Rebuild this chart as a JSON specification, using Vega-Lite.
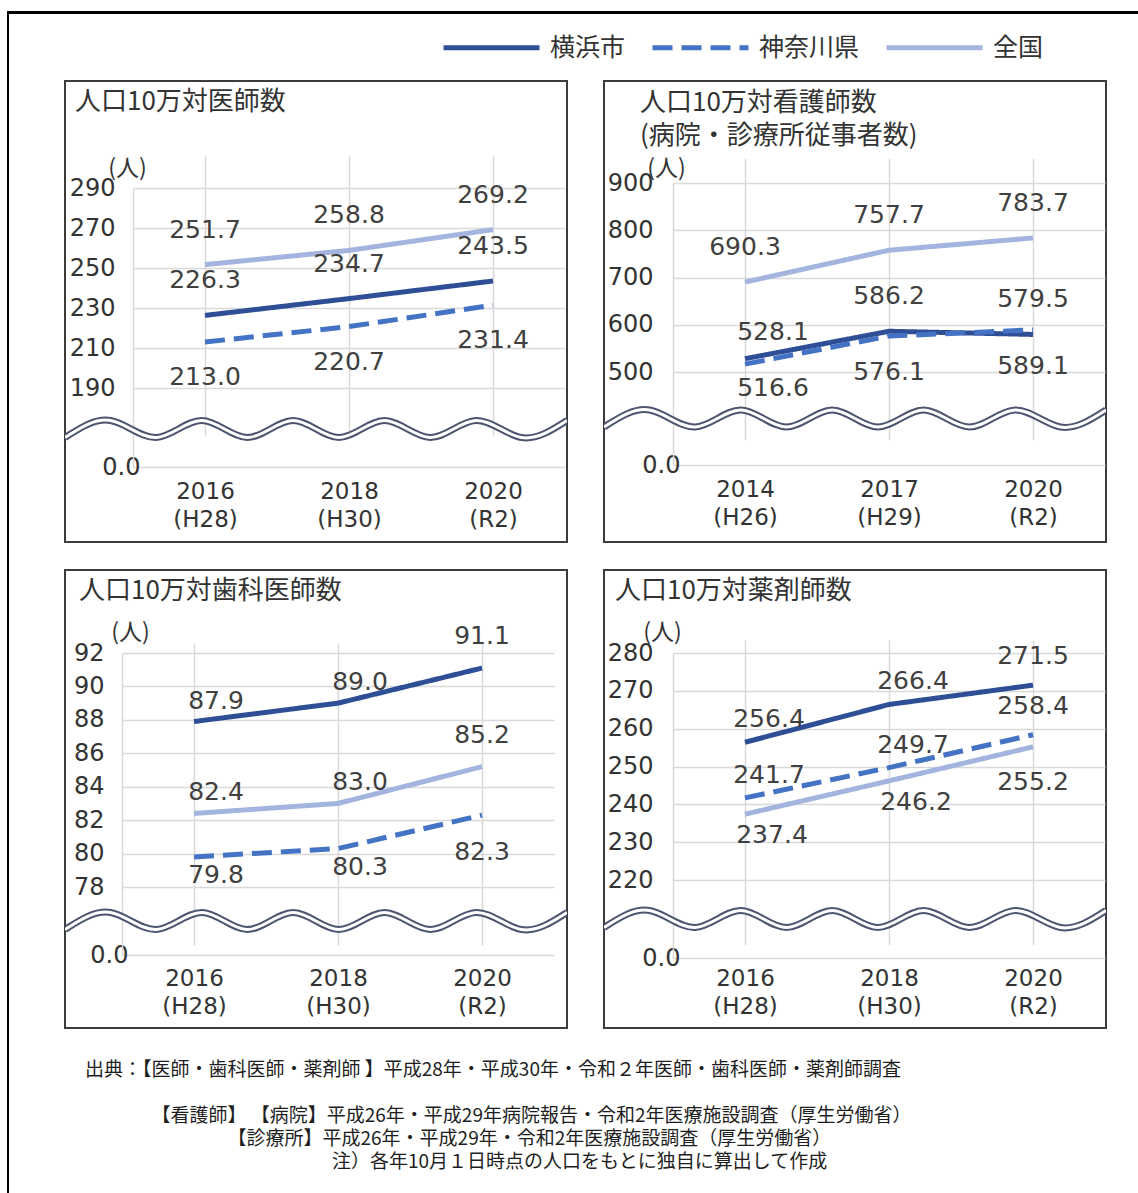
{
  "$schema": "https://vega.github.io/schema/vega-lite/v6.json",
  "background": "white",
  "padding": {"left": 7, "top": 11, "right": 0, "bottom": 0},
  "autosize": {"type": "pad"},
  "bounds": "flush",
  "spacing": 0,
  "datasets": {
    "p1": [
      {"year": "2016\n(H28)", "series": "横浜市", "value": 226.3},
      {"year": "2018\n(H30)", "series": "横浜市", "value": 234.7},
      {"year": "2020\n(R2)", "series": "横浜市", "value": 243.5},
      {"year": "2016\n(H28)", "series": "神奈川県", "value": 213.0},
      {"year": "2018\n(H30)", "series": "神奈川県", "value": 220.7},
      {"year": "2020\n(R2)", "series": "神奈川県", "value": 231.4},
      {"year": "2016\n(H28)", "series": "全国", "value": 251.7},
      {"year": "2018\n(H30)", "series": "全国", "value": 258.8},
      {"year": "2020\n(R2)", "series": "全国", "value": 269.2}
    ],
    "p2": [
      {"year": "2014\n(H26)", "series": "横浜市", "value": 528.1},
      {"year": "2017\n(H29)", "series": "横浜市", "value": 586.2},
      {"year": "2020\n(R2)", "series": "横浜市", "value": 579.5},
      {"year": "2014\n(H26)", "series": "神奈川県", "value": 516.6},
      {"year": "2017\n(H29)", "series": "神奈川県", "value": 576.1},
      {"year": "2020\n(R2)", "series": "神奈川県", "value": 589.1},
      {"year": "2014\n(H26)", "series": "全国", "value": 690.3},
      {"year": "2017\n(H29)", "series": "全国", "value": 757.7},
      {"year": "2020\n(R2)", "series": "全国", "value": 783.7}
    ],
    "p3": [
      {"year": "2016\n(H28)", "series": "横浜市", "value": 87.9},
      {"year": "2018\n(H30)", "series": "横浜市", "value": 89.0},
      {"year": "2020\n(R2)", "series": "横浜市", "value": 91.1},
      {"year": "2016\n(H28)", "series": "神奈川県", "value": 79.8},
      {"year": "2018\n(H30)", "series": "神奈川県", "value": 80.3},
      {"year": "2020\n(R2)", "series": "神奈川県", "value": 82.3},
      {"year": "2016\n(H28)", "series": "全国", "value": 82.4},
      {"year": "2018\n(H30)", "series": "全国", "value": 83.0},
      {"year": "2020\n(R2)", "series": "全国", "value": 85.2}
    ],
    "p4": [
      {"year": "2016\n(H28)", "series": "横浜市", "value": 256.4},
      {"year": "2018\n(H30)", "series": "横浜市", "value": 266.4},
      {"year": "2020\n(R2)", "series": "横浜市", "value": 271.5},
      {"year": "2016\n(H28)", "series": "神奈川県", "value": 241.7},
      {"year": "2018\n(H30)", "series": "神奈川県", "value": 249.7},
      {"year": "2020\n(R2)", "series": "神奈川県", "value": 258.4},
      {"year": "2016\n(H28)", "series": "全国", "value": 237.4},
      {"year": "2018\n(H30)", "series": "全国", "value": 246.2},
      {"year": "2020\n(R2)", "series": "全国", "value": 255.2}
    ],
    "wave": [
      {"t": 0, "w": -1}, {"t": 1, "w": 1}, {"t": 2, "w": -1}, {"t": 3, "w": 1},
      {"t": 4, "w": -1}, {"t": 5, "w": 1}, {"t": 6, "w": -1}, {"t": 7, "w": 1},
      {"t": 8, "w": -1}, {"t": 9, "w": 1}, {"t": 10, "w": -1}, {"t": 11, "w": 1}
    ]
  },
  "vconcat": [
    {"width": 1131, "height": 3, "data": {"values": []}, "mark": {"type": "point", "opacity": 0}, "view": {"stroke": null, "fill": "black"}},
    {
      "spacing": 56,
      "bounds": "flush",
      "hconcat": [
        {"width": 2, "height": 1179, "data": {"values": []}, "mark": {"type": "point", "opacity": 0}, "view": {"stroke": null, "fill": "black"}},
        {
          "spacing": 26,
          "bounds": "full",
          "title": {
            "text": [
              "出典：【医師・歯科医師・薬剤師 】平成28年・平成30年・令和２年医師・歯科医師・薬剤師調査",
              "\u200b",
              "\u200b　　　\u2002【看護師】 【病院】平成26年・平成29年病院報告・令和2年医療施設調査（厚生労働省）",
              "\u200b　　　　　　　　【診療所】平成26年・平成29年・令和2年医療施設調査（厚生労働省）",
              "\u200b　　　　　　　　　　　　　注）各年10月１日時点の人口をもとに独自に算出して作成"
            ],
            "orient": "bottom", "anchor": "start", "frame": "group", "offset": 32, "dx": 20,
            "font": "Noto Sans CJK JP", "fontSize": 19, "fontWeight": "normal", "color": "#1e1e1e", "lineHeight": 23
          },
          "vconcat": [
            {"width": 1000, "height": 40, "data": {"values": []}, "mark": {"type": "point", "opacity": 0}, "view": {"stroke": null, "fill": "white"}},
            {
              "spacing": 37,
              "bounds": "flush",
              "hconcat": [
                {
                  "width": 502, "height": 461,
                  "view": {"stroke": "#3c3c3c", "strokeWidth": 2, "fill": "white"},
                  "title": {"text": "人口10万対医師数", "orient": "top", "anchor": "start", "frame": "group", "offset": -34, "dx": 10, "font": "Noto Sans CJK JP", "fontSize": 26, "fontWeight": "normal", "color": "#333333"},
                  "resolve": {"scale": {"x": "independent", "y": "independent"}},
                  "layer": [
                    {
                      "data": {"name": "p1"},
                      "encoding": {
                        "x": {"field": "year", "type": "ordinal", "scale": {"type": "point", "range": [68, 500], "padding": 0.5},
                          "axis": {"orient": "bottom", "offset": -75, "domain": false, "ticks": false, "tickSize": 0, "grid": true, "gridColor": "#d9d9d9", "gridWidth": 1.5, "labelExpr": "split(datum.label, '\\n')", "labelFont": "DejaVu Sans", "labelFontSize": 23, "labelLineHeight": 28, "labelPadding": 13, "labelColor": "#333333", "labelAngle": 0, "labelBaseline": "top", "title": null}},
                        "y": {"field": "value", "type": "quantitative", "scale": {"domain": [0, 190, 290], "range": [386, 307, 107], "nice": false, "zero": false},
                          "axis": {"values": [0, 190, 210, 230, 250, 270, 290], "labelExpr": "datum.value == 0 ? '0.0' : datum.label", "offset": -68, "domain": true, "domainColor": "#d9d9d9", "domainWidth": 1.5, "ticks": false, "tickSize": 0, "grid": true, "gridColor": "#d9d9d9", "gridWidth": 1.5, "labelFont": "DejaVu Sans", "labelFontSize": 24, "labelColor": "#333333", "labelPadding": {"condition": {"test": "datum.value == 0", "value": -7}, "value": 18}, "labelBaseline": "middle", "labelOverlap": false, "title": "(人)", "titleAngle": 0, "titleX": -6, "titleY": 87, "titleAlign": "center", "titleBaseline": "middle", "titleFont": "Noto Sans CJK JP", "titleFontSize": 23, "titleFontWeight": "normal", "titleColor": "#333333"}}
                      },
                      "layer": [
                        {"mark": {"type": "line", "strokeWidth": 5},
                         "encoding": {
                           "color": {"field": "series", "type": "nominal", "scale": {"domain": ["横浜市", "神奈川県", "全国"], "range": ["#2e4f96", "#4472c4", "#a3b5de"]},
                             "legend": {"title": null, "orient": "none", "legendX": 470, "legendY": 22, "direction": "horizontal", "symbolType": "M-4,0H4", "symbolSize": 576, "symbolStrokeWidth": 5, "labelFont": "Noto Sans CJK JP", "labelFontSize": 25, "labelColor": "#333333", "labelOffset": 44, "columnPadding": 16, "padding": 0}},
                           "strokeDash": {"field": "series", "type": "nominal", "scale": {"domain": ["横浜市", "神奈川県", "全国"], "range": [[1, 0], [20, 9], [1, 0]]},
                             "legend": {"title": null, "orient": "none", "legendX": 470, "legendY": 22, "direction": "horizontal", "symbolType": "M-4,0H4", "symbolSize": 576, "symbolStrokeWidth": 5, "labelFont": "Noto Sans CJK JP", "labelFontSize": 25, "labelColor": "#333333", "labelOffset": 44, "columnPadding": 16, "padding": 0}}
                         }},
                        {"transform": [{"filter": "datum.series != '神奈川県'"}],
                         "mark": {"type": "text", "font": "DejaVu Sans", "fontSize": 25, "color": "#404040", "dy": -35},
                         "encoding": {"text": {"field": "value", "type": "quantitative", "format": ".1f"}}},
                        {"transform": [{"filter": "datum.series == '神奈川県'"}],
                         "mark": {"type": "text", "font": "DejaVu Sans", "fontSize": 25, "color": "#404040", "dy": 35},
                         "encoding": {"text": {"field": "value", "type": "quantitative", "format": ".1f"}}}
                      ]
                    },
                    {
                      "data": {"name": "wave"},
                      "encoding": {
                        "x": {"field": "t", "type": "quantitative", "scale": {"domain": [0, 11], "range": [0, 502], "nice": false, "zero": false}, "axis": null},
                        "y": {"field": "w", "type": "quantitative", "scale": {"domain": [-1, 1], "range": [356.5, 339.5], "nice": false, "zero": false}, "axis": null}
                      },
                      "layer": [
                        {"mark": {"type": "line", "interpolate": "natural", "color": "#4d5570", "strokeWidth": 7, "clip": true}},
                        {"mark": {"type": "line", "interpolate": "natural", "color": "white", "strokeWidth": 3, "clip": true}}
                      ]
                    }
                  ]
                },
                {
                  "width": 502, "height": 461,
                  "view": {"stroke": "#3c3c3c", "strokeWidth": 2, "fill": "white"},
                  "title": {"text": ["人口10万対看護師数", "(病院・診療所従事者数)"], "lineHeight": 33, "orient": "top", "anchor": "start", "frame": "group", "offset": -68, "dx": 36, "font": "Noto Sans CJK JP", "fontSize": 26, "fontWeight": "normal", "color": "#333333"},
                  "resolve": {"scale": {"x": "independent", "y": "independent"}},
                  "layer": [
                    {
                      "data": {"name": "p2"},
                      "encoding": {
                        "x": {"field": "year", "type": "ordinal", "scale": {"type": "point", "range": [69, 501], "padding": 0.5},
                          "axis": {"orient": "bottom", "offset": -77, "domain": false, "ticks": false, "tickSize": 0, "grid": true, "gridColor": "#d9d9d9", "gridWidth": 1.5, "labelExpr": "split(datum.label, '\\n')", "labelFont": "DejaVu Sans", "labelFontSize": 23, "labelLineHeight": 28, "labelPadding": 13, "labelColor": "#333333", "labelAngle": 0, "labelBaseline": "top", "title": null}},
                        "y": {"field": "value", "type": "quantitative", "scale": {"domain": [0, 500, 900], "range": [384, 291, 102], "nice": false, "zero": false},
                          "axis": {"values": [0, 500, 600, 700, 800, 900], "labelExpr": "datum.value == 0 ? '0.0' : datum.label", "offset": -69, "domain": true, "domainColor": "#d9d9d9", "domainWidth": 1.5, "ticks": false, "tickSize": 0, "grid": true, "gridColor": "#d9d9d9", "gridWidth": 1.5, "labelFont": "DejaVu Sans", "labelFontSize": 24, "labelColor": "#333333", "labelPadding": {"condition": {"test": "datum.value == 0", "value": -7}, "value": 20}, "labelBaseline": "middle", "labelOverlap": false, "title": "(人)", "titleAngle": 0, "titleX": -7, "titleY": 87, "titleAlign": "center", "titleBaseline": "middle", "titleFont": "Noto Sans CJK JP", "titleFontSize": 23, "titleFontWeight": "normal", "titleColor": "#333333"}}
                      },
                      "layer": [
                        {"mark": {"type": "line", "strokeWidth": 5},
                         "encoding": {
                           "color": {"field": "series", "type": "nominal", "scale": {"domain": ["横浜市", "神奈川県", "全国"], "range": ["#2e4f96", "#4472c4", "#a3b5de"]},
                             "legend": {"title": null, "orient": "none", "legendX": 470, "legendY": 22, "direction": "horizontal", "symbolType": "M-4,0H4", "symbolSize": 576, "symbolStrokeWidth": 5, "labelFont": "Noto Sans CJK JP", "labelFontSize": 25, "labelColor": "#333333", "labelOffset": 44, "columnPadding": 16, "padding": 0}},
                           "strokeDash": {"field": "series", "type": "nominal", "scale": {"domain": ["横浜市", "神奈川県", "全国"], "range": [[1, 0], [20, 9], [1, 0]]},
                             "legend": {"title": null, "orient": "none", "legendX": 470, "legendY": 22, "direction": "horizontal", "symbolType": "M-4,0H4", "symbolSize": 576, "symbolStrokeWidth": 5, "labelFont": "Noto Sans CJK JP", "labelFontSize": 25, "labelColor": "#333333", "labelOffset": 44, "columnPadding": 16, "padding": 0}}
                         }},
                        {"transform": [{"filter": "datum.series == '全国' || (datum.series == '横浜市' && indexof(datum.year, '2014') != 0)"}],
                         "mark": {"type": "text", "font": "DejaVu Sans", "fontSize": 25, "color": "#404040", "dy": -35},
                         "encoding": {"text": {"field": "value", "type": "quantitative", "format": ".1f"}}},
                        {"transform": [{"filter": "datum.series == '横浜市' && indexof(datum.year, '2014') == 0"}],
                         "mark": {"type": "text", "font": "DejaVu Sans", "fontSize": 25, "color": "#404040", "dy": -27, "dx": 28},
                         "encoding": {"text": {"field": "value", "type": "quantitative", "format": ".1f"}}},
                        {"transform": [{"filter": "datum.series == '神奈川県' && indexof(datum.year, '2014') == 0"}],
                         "mark": {"type": "text", "font": "DejaVu Sans", "fontSize": 25, "color": "#404040", "dy": 24, "dx": 28},
                         "encoding": {"text": {"field": "value", "type": "quantitative", "format": ".1f"}}},
                        {"transform": [{"filter": "datum.series == '神奈川県' && indexof(datum.year, '2014') != 0"}],
                         "mark": {"type": "text", "font": "DejaVu Sans", "fontSize": 25, "color": "#404040", "dy": 36},
                         "encoding": {"text": {"field": "value", "type": "quantitative", "format": ".1f"}}}
                      ]
                    },
                    {
                      "data": {"name": "wave"},
                      "encoding": {
                        "x": {"field": "t", "type": "quantitative", "scale": {"domain": [0, 11], "range": [0, 502], "nice": false, "zero": false}, "axis": null},
                        "y": {"field": "w", "type": "quantitative", "scale": {"domain": [-1, 1], "range": [346, 329], "nice": false, "zero": false}, "axis": null}
                      },
                      "layer": [
                        {"mark": {"type": "line", "interpolate": "natural", "color": "#4d5570", "strokeWidth": 7, "clip": true}},
                        {"mark": {"type": "line", "interpolate": "natural", "color": "white", "strokeWidth": 3, "clip": true}}
                      ]
                    }
                  ]
                }
              ]
            },
            {
              "spacing": 37,
              "bounds": "flush",
              "hconcat": [
                {
                  "width": 502, "height": 458,
                  "view": {"stroke": "#3c3c3c", "strokeWidth": 2, "fill": "white"},
                  "title": {"text": "人口10万対歯科医師数", "orient": "top", "anchor": "start", "frame": "group", "offset": -34, "dx": 14, "font": "Noto Sans CJK JP", "fontSize": 26, "fontWeight": "normal", "color": "#333333"},
                  "resolve": {"scale": {"x": "independent", "y": "independent"}},
                  "layer": [
                    {
                      "data": {"name": "p3"},
                      "encoding": {
                        "x": {"field": "year", "type": "ordinal", "scale": {"type": "point", "range": [57, 489], "padding": 0.5},
                          "axis": {"orient": "bottom", "offset": -73, "domain": false, "ticks": false, "tickSize": 0, "grid": true, "gridColor": "#d9d9d9", "gridWidth": 1.5, "labelExpr": "split(datum.label, '\\n')", "labelFont": "DejaVu Sans", "labelFontSize": 23, "labelLineHeight": 28, "labelPadding": 12, "labelColor": "#333333", "labelAngle": 0, "labelBaseline": "top", "title": null}},
                        "y": {"field": "value", "type": "quantitative", "scale": {"domain": [0, 78, 92], "range": [385, 317, 83], "nice": false, "zero": false},
                          "axis": {"values": [0, 78, 80, 82, 84, 86, 88, 90, 92], "labelExpr": "datum.value == 0 ? '0.0' : datum.label", "offset": -57, "domain": true, "domainColor": "#d9d9d9", "domainWidth": 1.5, "ticks": false, "tickSize": 0, "grid": true, "gridColor": "#d9d9d9", "gridWidth": 1.5, "labelFont": "DejaVu Sans", "labelFontSize": 24, "labelColor": "#333333", "labelPadding": {"condition": {"test": "datum.value == 0", "value": -6}, "value": 18}, "labelBaseline": "middle", "labelOverlap": false, "title": "(人)", "titleAngle": 0, "titleX": 8, "titleY": 62, "titleAlign": "center", "titleBaseline": "middle", "titleFont": "Noto Sans CJK JP", "titleFontSize": 23, "titleFontWeight": "normal", "titleColor": "#333333"}}
                      },
                      "layer": [
                        {"mark": {"type": "line", "strokeWidth": 5},
                         "encoding": {
                           "color": {"field": "series", "type": "nominal", "scale": {"domain": ["横浜市", "神奈川県", "全国"], "range": ["#2e4f96", "#4472c4", "#a3b5de"]},
                             "legend": {"title": null, "orient": "none", "legendX": 470, "legendY": 22, "direction": "horizontal", "symbolType": "M-4,0H4", "symbolSize": 576, "symbolStrokeWidth": 5, "labelFont": "Noto Sans CJK JP", "labelFontSize": 25, "labelColor": "#333333", "labelOffset": 44, "columnPadding": 16, "padding": 0}},
                           "strokeDash": {"field": "series", "type": "nominal", "scale": {"domain": ["横浜市", "神奈川県", "全国"], "range": [[1, 0], [20, 9], [1, 0]]},
                             "legend": {"title": null, "orient": "none", "legendX": 470, "legendY": 22, "direction": "horizontal", "symbolType": "M-4,0H4", "symbolSize": 576, "symbolStrokeWidth": 5, "labelFont": "Noto Sans CJK JP", "labelFontSize": 25, "labelColor": "#333333", "labelOffset": 44, "columnPadding": 16, "padding": 0}}
                         }},
                        {"transform": [{"filter": "datum.series != '神奈川県' && indexof(datum.year, '2020') != 0"}],
                         "mark": {"type": "text", "font": "DejaVu Sans", "fontSize": 25, "color": "#404040", "dy": -21, "dx": 22},
                         "encoding": {"text": {"field": "value", "type": "quantitative", "format": ".1f"}}},
                        {"transform": [{"filter": "datum.series != '神奈川県' && indexof(datum.year, '2020') == 0"}],
                         "mark": {"type": "text", "font": "DejaVu Sans", "fontSize": 25, "color": "#404040", "dy": -32},
                         "encoding": {"text": {"field": "value", "type": "quantitative", "format": ".1f"}}},
                        {"transform": [{"filter": "datum.series == '神奈川県' && indexof(datum.year, '2020') != 0"}],
                         "mark": {"type": "text", "font": "DejaVu Sans", "fontSize": 25, "color": "#404040", "dy": 18, "dx": 22},
                         "encoding": {"text": {"field": "value", "type": "quantitative", "format": ".1f"}}},
                        {"transform": [{"filter": "datum.series == '神奈川県' && indexof(datum.year, '2020') == 0"}],
                         "mark": {"type": "text", "font": "DejaVu Sans", "fontSize": 25, "color": "#404040", "dy": 37},
                         "encoding": {"text": {"field": "value", "type": "quantitative", "format": ".1f"}}}
                      ]
                    },
                    {
                      "data": {"name": "wave"},
                      "encoding": {
                        "x": {"field": "t", "type": "quantitative", "scale": {"domain": [0, 11], "range": [0, 502], "nice": false, "zero": false}, "axis": null},
                        "y": {"field": "w", "type": "quantitative", "scale": {"domain": [-1, 1], "range": [359.5, 342.5], "nice": false, "zero": false}, "axis": null}
                      },
                      "layer": [
                        {"mark": {"type": "line", "interpolate": "natural", "color": "#4d5570", "strokeWidth": 7, "clip": true}},
                        {"mark": {"type": "line", "interpolate": "natural", "color": "white", "strokeWidth": 3, "clip": true}}
                      ]
                    }
                  ]
                },
                {
                  "width": 502, "height": 458,
                  "view": {"stroke": "#3c3c3c", "strokeWidth": 2, "fill": "white"},
                  "title": {"text": "人口10万対薬剤師数", "orient": "top", "anchor": "start", "frame": "group", "offset": -34, "dx": 11, "font": "Noto Sans CJK JP", "fontSize": 26, "fontWeight": "normal", "color": "#333333"},
                  "resolve": {"scale": {"x": "independent", "y": "independent"}},
                  "layer": [
                    {
                      "data": {"name": "p4"},
                      "encoding": {
                        "x": {"field": "year", "type": "ordinal", "scale": {"type": "point", "range": [69, 501], "padding": 0.5},
                          "axis": {"orient": "bottom", "offset": -70, "domain": false, "ticks": false, "tickSize": 0, "grid": true, "gridColor": "#d9d9d9", "gridWidth": 1.5, "labelExpr": "split(datum.label, '\\n')", "labelFont": "DejaVu Sans", "labelFontSize": 23, "labelLineHeight": 28, "labelPadding": 9, "labelColor": "#333333", "labelAngle": 0, "labelBaseline": "top", "title": null}},
                        "y": {"field": "value", "type": "quantitative", "scale": {"domain": [0, 220, 280], "range": [388, 310, 83], "nice": false, "zero": false},
                          "axis": {"values": [0, 220, 230, 240, 250, 260, 270, 280], "labelExpr": "datum.value == 0 ? '0.0' : datum.label", "offset": -69, "domain": true, "domainColor": "#d9d9d9", "domainWidth": 1.5, "ticks": false, "tickSize": 0, "grid": true, "gridColor": "#d9d9d9", "gridWidth": 1.5, "labelFont": "DejaVu Sans", "labelFontSize": 24, "labelColor": "#333333", "labelPadding": {"condition": {"test": "datum.value == 0", "value": -7}, "value": 20}, "labelBaseline": "middle", "labelOverlap": false, "title": "(人)", "titleAngle": 0, "titleX": -11, "titleY": 62, "titleAlign": "center", "titleBaseline": "middle", "titleFont": "Noto Sans CJK JP", "titleFontSize": 23, "titleFontWeight": "normal", "titleColor": "#333333"}}
                      },
                      "layer": [
                        {"mark": {"type": "line", "strokeWidth": 5},
                         "encoding": {
                           "color": {"field": "series", "type": "nominal", "scale": {"domain": ["横浜市", "神奈川県", "全国"], "range": ["#2e4f96", "#4472c4", "#a3b5de"]},
                             "legend": {"title": null, "orient": "none", "legendX": 470, "legendY": 22, "direction": "horizontal", "symbolType": "M-4,0H4", "symbolSize": 576, "symbolStrokeWidth": 5, "labelFont": "Noto Sans CJK JP", "labelFontSize": 25, "labelColor": "#333333", "labelOffset": 44, "columnPadding": 16, "padding": 0}},
                           "strokeDash": {"field": "series", "type": "nominal", "scale": {"domain": ["横浜市", "神奈川県", "全国"], "range": [[1, 0], [20, 9], [1, 0]]},
                             "legend": {"title": null, "orient": "none", "legendX": 470, "legendY": 22, "direction": "horizontal", "symbolType": "M-4,0H4", "symbolSize": 576, "symbolStrokeWidth": 5, "labelFont": "Noto Sans CJK JP", "labelFontSize": 25, "labelColor": "#333333", "labelOffset": 44, "columnPadding": 16, "padding": 0}}
                         }},
                        {"transform": [{"filter": "datum.series != '全国' && indexof(datum.year, '2020') != 0"}],
                         "mark": {"type": "text", "font": "DejaVu Sans", "fontSize": 25, "color": "#404040", "dy": -23, "dx": 24},
                         "encoding": {"text": {"field": "value", "type": "quantitative", "format": ".1f"}}},
                        {"transform": [{"filter": "datum.series != '全国' && indexof(datum.year, '2020') == 0"}],
                         "mark": {"type": "text", "font": "DejaVu Sans", "fontSize": 25, "color": "#404040", "dy": -29},
                         "encoding": {"text": {"field": "value", "type": "quantitative", "format": ".1f"}}},
                        {"transform": [{"filter": "datum.series == '全国' && indexof(datum.year, '2020') != 0"}],
                         "mark": {"type": "text", "font": "DejaVu Sans", "fontSize": 25, "color": "#404040", "dy": 21, "dx": 27},
                         "encoding": {"text": {"field": "value", "type": "quantitative", "format": ".1f"}}},
                        {"transform": [{"filter": "datum.series == '全国' && indexof(datum.year, '2020') == 0"}],
                         "mark": {"type": "text", "font": "DejaVu Sans", "fontSize": 25, "color": "#404040", "dy": 35},
                         "encoding": {"text": {"field": "value", "type": "quantitative", "format": ".1f"}}}
                      ]
                    },
                    {
                      "data": {"name": "wave"},
                      "encoding": {
                        "x": {"field": "t", "type": "quantitative", "scale": {"domain": [0, 11], "range": [0, 502], "nice": false, "zero": false}, "axis": null},
                        "y": {"field": "w", "type": "quantitative", "scale": {"domain": [-1, 1], "range": [357.5, 340.5], "nice": false, "zero": false}, "axis": null}
                      },
                      "layer": [
                        {"mark": {"type": "line", "interpolate": "natural", "color": "#4d5570", "strokeWidth": 7, "clip": true}},
                        {"mark": {"type": "line", "interpolate": "natural", "color": "white", "strokeWidth": 3, "clip": true}}
                      ]
                    }
                  ]
                }
              ]
            }
          ]
        }
      ]
    }
  ],
  "config": {
    "view": {"stroke": null},
    "font": "Noto Sans CJK JP"
  }
}
